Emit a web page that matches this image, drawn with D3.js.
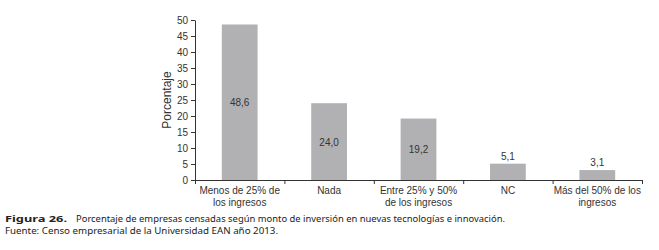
<!DOCTYPE html>
<html lang="es">
<head>
<meta charset="UTF-8">
<title>Figura 26</title>
<script src="https://d3js.org/d3.v7.min.js"></script>
<style>
body{margin:0;background:#fff}
svg{display:block}
.axis text{fill:#333;font-family:"Liberation Sans",Arial,sans-serif;font-size:10px}
.axis line,.axis path{stroke:#333;stroke-width:1}
.cat{fill:#333;font-family:"Liberation Sans",Arial,sans-serif;font-size:10px}
.val{fill:#333;font-family:"Liberation Sans",Arial,sans-serif;font-size:10px}
.cap{fill:#222;font-family:"Noto Sans",sans-serif;font-size:9.6px}
</style>
</head>
<body>
<div id="chart"></div>
<script>
var categories = [
  ['Menos de 25% de', 'los ingresos'],
  ['Nada'],
  ['Entre 25% y 50%', 'de los ingresos'],
  ['NC'],
  ['Más del 50% de los', 'ingresos']
];
var values = [48.6, 24.0, 19.2, 5.1, 3.1];
var yTicks = [0, 5, 10, 15, 20, 25, 30, 35, 40, 45, 50];

var W = 659, H = 250;
var margin = { top: 20, left: 195, right: 17, bottom: 70 };
var w = W - margin.left - margin.right;
var h = H - margin.top - margin.bottom;

var svg = d3.select('#chart').append('svg').attr('width', W).attr('height', H);
var g = svg.append('g').attr('transform', 'translate(' + margin.left + ',' + margin.top + ')');

var idx = d3.range(values.length);
var x = d3.scaleBand().domain(idx).range([0, w]).paddingInner(0.6).paddingOuter(0.3);
var xb = d3.scaleLinear().domain([0, values.length]).range([0, w]);
var y = d3.scaleLinear().domain([0, 50]).range([h, 0]);

// Bars
g.selectAll('rect.bar').data(values).join('rect')
  .attr('class', 'bar')
  .attr('x', function(d, i) { return x(i); })
  .attr('y', function(d) { return y(d); })
  .attr('width', x.bandwidth())
  .attr('height', function(d) { return h - y(d); })
  .attr('fill', '#b1b1b3');

// Value labels: inside for tall bars, above for short ones
g.selectAll('text.val').data(values).join('text')
  .attr('class', 'val')
  .attr('text-anchor', 'middle')
  .attr('x', function(d, i) { return x(i) + x.bandwidth() / 2; })
  .attr('y', function(d) { return d > 10 ? y(d / 2) + 4 : y(d) - 4; })
  .text(function(d) { return d.toFixed(1).replace('.', ','); });

// Axes
g.append('g').attr('class', 'axis')
  .call(d3.axisLeft(y).tickValues(yTicks).tickSize(4).tickSizeOuter(0).tickPadding(3));

g.append('g').attr('class', 'axis').attr('transform', 'translate(0,' + h + ')')
  .call(d3.axisBottom(xb).tickValues(d3.range(values.length + 1)).tickSize(4).tickSizeOuter(0).tickFormat(''));

// Category labels
var cat = g.selectAll('text.cat').data(categories).join('text')
  .attr('class', 'cat')
  .attr('text-anchor', 'middle')
  .attr('transform', function(d, i) { return 'translate(' + (x(i) + x.bandwidth() / 2) + ',' + (h + 14) + ')'; });
cat.selectAll('tspan').data(function(d) { return d; }).join('tspan')
  .attr('x', 0)
  .attr('dy', function(d, j) { return j === 0 ? 0 : 12; })
  .text(function(d) { return d; });

// Y title
svg.append('text')
  .attr('class', 'cat')
  .style('font-size', '12px')
  .attr('text-anchor', 'middle')
  .attr('transform', 'translate(171,' + (margin.top + h / 2) + ') rotate(-90)')
  .text('Porcentaje');

// Caption
svg.append('text').attr('class', 'cap').attr('font-weight', 'bold')
  .attr('x', 5).attr('y', 222)
  .attr('textLength', 62).attr('lengthAdjust', 'spacingAndGlyphs')
  .text('Figura 26.');
svg.append('text').attr('class', 'cap')
  .attr('x', 76).attr('y', 222)
  .attr('textLength', 429).attr('lengthAdjust', 'spacingAndGlyphs')
  .text('Porcentaje de empresas censadas según monto de inversión en nuevas tecnologías e innovación.');
svg.append('text').attr('class', 'cap')
  .attr('x', 5).attr('y', 234)
  .attr('textLength', 273).attr('lengthAdjust', 'spacingAndGlyphs')
  .text('Fuente: Censo empresarial de la Universidad EAN año 2013.');
</script>
</body>
</html>
